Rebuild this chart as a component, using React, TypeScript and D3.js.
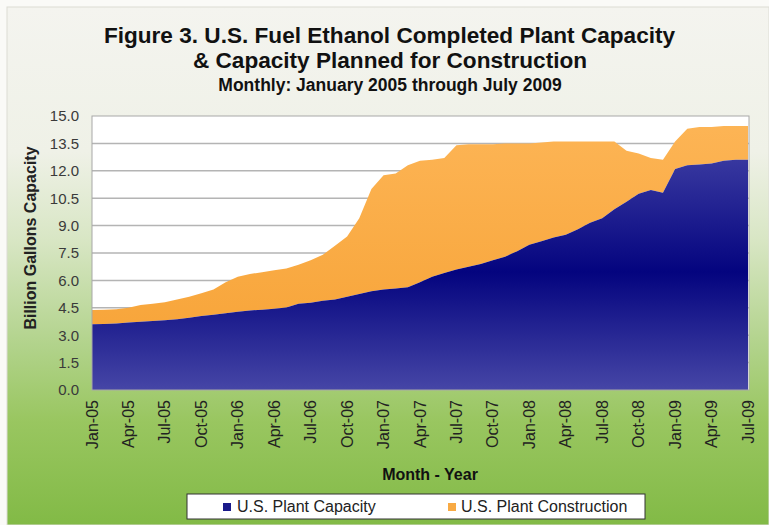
import React from "react";
import * as d3 from "d3";

const months: string[] = [
  "Jan-05","Feb-05","Mar-05","Apr-05","May-05","Jun-05","Jul-05","Aug-05","Sep-05","Oct-05","Nov-05","Dec-05",
  "Jan-06","Feb-06","Mar-06","Apr-06","May-06","Jun-06","Jul-06","Aug-06","Sep-06","Oct-06","Nov-06","Dec-06",
  "Jan-07","Feb-07","Mar-07","Apr-07","May-07","Jun-07","Jul-07","Aug-07","Sep-07","Oct-07","Nov-07","Dec-07",
  "Jan-08","Feb-08","Mar-08","Apr-08","May-08","Jun-08","Jul-08","Aug-08","Sep-08","Oct-08","Nov-08","Dec-08",
  "Jan-09","Feb-09","Mar-09","Apr-09","May-09","Jun-09","Jul-09",
];

const tickLabels: string[] = [
  "Jan-05","Apr-05","Jul-05","Oct-05","Jan-06","Apr-06","Jul-06","Oct-06","Jan-07","Apr-07",
  "Jul-07","Oct-07","Jan-08","Apr-08","Jul-08","Oct-08","Jan-09","Apr-09","Jul-09",
];

// Billion gallons, completed plant capacity
const plantCapacity: number[] = [
  3.6, 3.62, 3.64, 3.7, 3.74, 3.78, 3.82, 3.88, 3.95, 4.05, 4.12, 4.2,
  4.28, 4.35, 4.4, 4.45, 4.52, 4.72, 4.78, 4.88, 4.95, 5.1, 5.25, 5.4,
  5.5, 5.55, 5.62, 5.9, 6.2, 6.4, 6.6, 6.75, 6.9, 7.1, 7.3, 7.6,
  7.95, 8.15, 8.35, 8.5, 8.8, 9.15, 9.4, 9.9, 10.3, 10.75, 10.95, 10.8,
  12.1, 12.3, 12.35, 12.4, 12.55, 12.6, 12.6,
];

// Billion gallons, capacity planned for construction
const plantConstruction: number[] = [
  0.78, 0.78, 0.78, 0.8, 0.91, 0.94, 0.98, 1.07, 1.15, 1.25, 1.38, 1.7,
  1.92, 2.0, 2.05, 2.1, 2.13, 2.13, 2.32, 2.52, 2.95, 3.3, 4.15, 5.6,
  6.25, 6.3, 6.68, 6.65, 6.4, 6.3, 6.8, 6.7, 6.55, 6.35, 6.2, 5.9,
  5.55, 5.4, 5.25, 5.1, 4.8, 4.45, 4.2, 3.7, 2.8, 2.2, 1.75, 1.8,
  1.5, 2.0, 2.05, 2.0, 1.9, 1.85, 1.85,
];

const yTicks: number[] = [0, 1.5, 3, 4.5, 6, 7.5, 9, 10.5, 12, 13.5, 15];

const seriesNames: string[] = ["U.S. Plant Capacity", "U.S. Plant Construction"];

const W = 769;
const H = 525;
const plot = { left: 92, right: 749, top: 116, bottom: 390 };
const FONT = "'Liberation Sans', Arial, sans-serif";

export default function App() {
  const x = d3.scalePoint<string>().domain(months).range([plot.left, plot.right - 1]);
  const y = d3.scaleLinear().domain([0, 15]).range([plot.bottom, plot.top]);

  const rows = months.map((m, i) => ({ m, cap: plantCapacity[i], con: plantConstruction[i] }));
  const stacked = d3.stack<any>().keys(["cap", "con"])(rows);
  const area = d3
    .area<any>()
    .x((d) => x(d.data.m) as number)
    .y0((d) => y(d[0]))
    .y1((d) => y(d[1]));

  return (
    <svg width={W} height={H} style={{ position: "absolute", left: 0, top: 0, display: "block" }}>
      <defs>
        <linearGradient id="bg" x1="0" y1="0" x2="0" y2="1">
          <stop offset="0" stopColor="#f4f4ef" />
          <stop offset="0.28" stopColor="#eff1e7" />
          <stop offset="0.45" stopColor="#d8e6c4" />
          <stop offset="0.65" stopColor="#b2d38c" />
          <stop offset="0.8" stopColor="#99c660" />
          <stop offset="1" stopColor="#82ba46" />
        </linearGradient>
        <linearGradient id="blueGrad" gradientUnits="userSpaceOnUse" x1="0" y1={plot.top} x2="0" y2={plot.bottom}>
          <stop offset="0" stopColor="#4c4cac" />
          <stop offset="0.57" stopColor="#04047f" />
          <stop offset="1" stopColor="#4646a6" />
        </linearGradient>
        <linearGradient id="orangeGrad" gradientUnits="userSpaceOnUse" x1="0" y1={plot.top} x2="0" y2={plot.bottom}>
          <stop offset="0" stopColor="#fdb556" />
          <stop offset="1" stopColor="#f6a133" />
        </linearGradient>
      </defs>

      <rect x={0} y={0} width={W} height={H} fill="#fafaf7" />
      <rect x={7} y={7} width={W - 7} height={H - 7} fill="url(#bg)" stroke="#dcdcd4" strokeWidth={1} />

      <g fontFamily={FONT} fontWeight="bold" textAnchor="middle" fill="#111">
        <text x={389.5} y={43} fontSize={22.6}>Figure 3. U.S. Fuel Ethanol Completed Plant Capacity</text>
        <text x={390} y={68} fontSize={22.6}>&amp; Capacity Planned for Construction</text>
        <text x={390} y={91} fontSize={17.5}>Monthly: January 2005 through July 2009</text>
      </g>

      <rect x={plot.left} y={plot.top} width={plot.right - plot.left} height={plot.bottom - plot.top} fill="#ffffff" />
      {yTicks.slice(1, -1).map((t) => (
        <line key={t} x1={plot.left} x2={plot.right} y1={y(t)} y2={y(t)} stroke="#b4b4b4" strokeWidth={1.5} />
      ))}

      <path d={area(stacked[1] as any) || ""} fill="url(#orangeGrad)" />
      <path d={area(stacked[0] as any) || ""} fill="url(#blueGrad)" />

      <rect x={plot.left} y={plot.top} width={plot.right - plot.left} height={plot.bottom - plot.top} fill="none" stroke="#a8a8a8" strokeWidth={1} />

      <g fontFamily={FONT} fontSize={15} fill="#3a3a3a" textAnchor="end">
        {yTicks.map((t) => (
          <text key={t} x={79} y={y(t)} dy="0.36em">{t.toFixed(1)}</text>
        ))}
      </g>

      <text
        transform={`translate(30,238) rotate(-90)`}
        fontFamily={FONT}
        fontSize={16}
        fontWeight="bold"
        textAnchor="middle"
        dy="0.35em"
        fill="#222"
      >
        Billion Gallons Capacity
      </text>

      <g fontFamily={FONT} fontSize={16} fill="#222" textAnchor="end">
        {tickLabels.map((l) => {
          const px = x(l) as number;
          return (
            <text key={l} transform={`translate(${px},${plot.bottom + 10}) rotate(-90)`} dy="0.35em">
              {l}
            </text>
          );
        })}
      </g>

      <text x={430} y={480} fontFamily={FONT} fontSize={16} fontWeight="bold" textAnchor="middle" fill="#111">
        Month - Year
      </text>

      <g fontFamily={FONT} fontSize={16}>
        <rect x={187} y={494} width={458} height={25} fill="#ffffff" stroke="#333" strokeWidth={1} />
        <rect x={223} y={503} width={8} height={8} fill="#1a1a8a" />
        <text x={237} y={512} fill="#222">{seriesNames[0]}</text>
        <rect x={448} y={503} width={8} height={8} fill="#f8aa44" />
        <text x={461} y={512} fill="#222">{seriesNames[1]}</text>
      </g>
    </svg>
  );
}
